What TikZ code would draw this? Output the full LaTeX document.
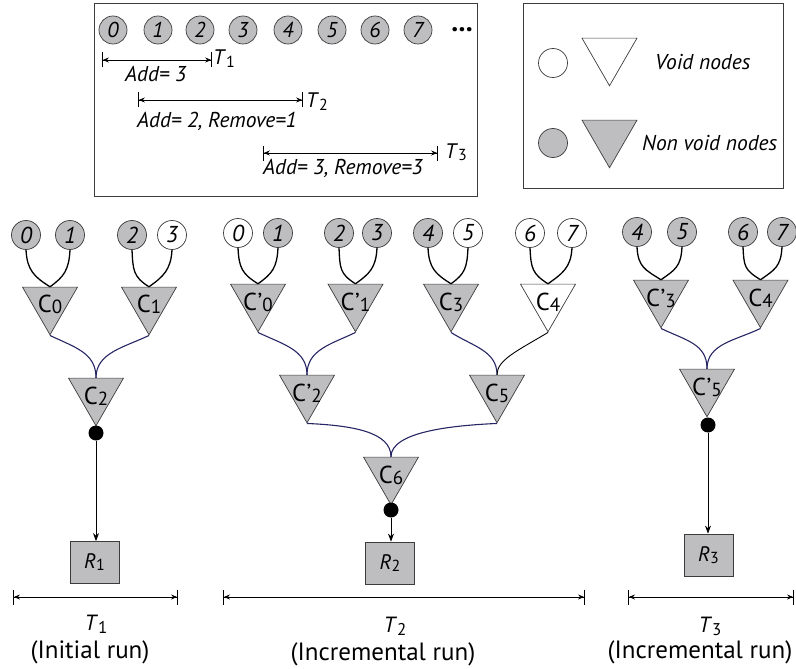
\documentclass[tikz,border=0pt]{standalone}
\usepackage{fontspec}
\setmainfont{PT Sans}
\usetikzlibrary{shapes.geometric,arrows.meta}

\definecolor{nodegray}{RGB}{190,190,192}
\definecolor{linknavy}{RGB}{38,38,100}
\definecolor{rimgray}{RGB}{60,60,60}

\newcommand\fs[1]{\fontsize{#1}{#1}\selectfont}
% lowered, smaller index (size, drop, text)
\newcommand\lsub[3]{\raisebox{-#2}{\fs{#1}#3}}
\newcommand\Clab[1]{C\lsub{19}{1pt}{#1}}
\newcommand\Cplab[1]{C\kern0.5pt’\lsub{19}{1pt}{#1}}

\tikzset{
  leaf/.style={circle, draw=rimgray, line width=0.7pt, fill=nodegray,
    minimum size=29pt, inner sep=0pt, font=\fs{23}\itshape},
  srcleaf/.style={leaf, minimum size=28pt, font=\fs{21.5}\itshape},
  void/.style={fill=white},
  tri/.style={regular polygon, regular polygon sides=3, shape border rotate=180,
    minimum size=63.5pt, inner sep=0pt, draw=rimgray, line width=0.7pt, fill=nodegray},
  clab/.style={yshift=-2pt, inner sep=0pt, font=\fs{24.5}},
  lconn/.style={line width=1.3pt, black},
  link/.style={line width=1.1pt, linknavy},
  dotn/.style={circle, fill=black, minimum size=15pt, inner sep=0pt},
  rbox/.style={rectangle, draw=rimgray, line width=0.8pt, fill=nodegray,
    minimum width=49pt, minimum height=42pt, inner sep=0pt, font=\fs{21}},
  span/.style={line width=0.9pt,
    {Bar[width=15pt]Stealth[length=6pt,width=5pt]}-{Stealth[length=6pt,width=5pt]Bar[width=15pt]}},
  drop/.style={line width=0.8pt, -{Stealth[length=8pt,width=6pt]}},
  txt/.style={inner sep=0pt, anchor=base west},
  ctxt/.style={inner sep=0pt, anchor=base},
  frame/.style={draw=rimgray, line width=0.9pt},
}

\begin{document}
\begin{tikzpicture}[x=1pt, y=-1pt]
\useasboundingbox (0,0) rectangle (796,669);

% ---------- input stream box ----------
\draw[frame] (94,3) rectangle (477,196);
\foreach \i/\x in {0/113,1/158,2/200,3/243,4/288,5/332,6/375,7/418}
  \node[srcleaf] (s\i) at (\x,30) {\i};
\node[font=\fs{28}\bfseries, inner sep=0pt] (more) at (462,30) {...};

\coordinate (w1a) at (102,60);  \coordinate (w1b) at (212,60);
\coordinate (w2a) at (138,100); \coordinate (w2b) at (303,100);
\coordinate (w3a) at (263,153); \coordinate (w3b) at (438,153);
\draw[span, line width=0.8pt] (w1a) -- (w1b);
\draw[span, line width=0.8pt] (w2a) -- (w2b);
\draw[span, line width=0.8pt] (w3a) -- (w3b);
\node[txt, font=\fs{21}] (wt1) at (213,65) {\textit{T}\lsub{16}{2.5pt}{1}};
\node[txt, font=\fs{21}] (wt2) at (306,108) {\textit{T}\lsub{16}{2.5pt}{2}};
\node[txt, font=\fs{21}] (wt3) at (445,158) {\textit{T}\lsub{16}{2.5pt}{3}};
\node[txt, font=\fs{21.5}\itshape] (wa1) at (125,82) {Add= 3};
\node[txt, font=\fs{21.5}\itshape] (wa2) at (137,128) {Add= 2, Remove=1};
\node[txt, font=\fs{21.5}\itshape] (wa3) at (263,175) {Add= 3, Remove=3};

% ---------- legend ----------
\draw[frame] (523,3) rectangle (783,188);
\node[leaf, void] (kv) at (553,63) {};
\node[tri, fill=white] (kvt) at (609.5,54) {};
\node[txt, font=\fs{21.5}\itshape] (kvl) at (655,70) {Void nodes};
\node[leaf] (kn) at (553,143) {};
\node[tri] (knt) at (609.5,136) {};
\node[txt, font=\fs{21.5}\itshape] (knl) at (642,150) {Non void nodes};

% ---------- initial run ----------
\node[leaf] (a0) at (26,235) {0};
\node[leaf] (a1) at (70,235) {1};
\node[leaf] (a2) at (132,235) {2};
\node[leaf, void] (a3) at (172,235) {3};
\node[tri, label={[clab, yshift=1pt]center:\Clab{0}}] (ac0) at (50,303) {};
\node[tri, label={[clab, yshift=1pt]center:\Clab{1}}] (ac1) at (149,303) {};
\node[tri, label={[clab]center:\Clab{2}}] (ac2) at (96,394) {};
\draw[lconn] (a0.south) .. controls +(1,20) and +(-16,-10) .. (ac0.north);
\draw[lconn] (a1.south) .. controls +(-1,20) and +(14,-10) .. (ac0.north);
\draw[lconn] (a2.south) .. controls +(1,20) and +(-16,-10) .. (ac1.north);
\draw[lconn] (a3.south) .. controls +(-1,20) and +(14,-10) .. (ac1.north);
\draw[link] (ac0.south) .. controls +(25,12) and +(0,-25) .. (ac2.north);
\draw[link] (ac1.south) .. controls +(-25,12) and +(0,-25) .. (ac2.north);
\node[dotn] (ad) at (96,433) {};
\node[rbox] (r1) at (94.5,562.5) {\textit{R}\lsub{16}{2pt}{1}};
\draw[drop] (ad) -- (ad |- r1.north);

% ---------- second run ----------
\node[leaf, void] (b0) at (238,233) {0};
\node[leaf] (b1) at (278,233) {1};
\node[leaf] (b2) at (339,233) {2};
\node[leaf] (b3) at (377,233) {3};
\node[leaf] (b4) at (428,233) {4};
\node[leaf, void] (b5) at (468,233) {5};
\node[leaf, void] (b6) at (530,233) {6};
\node[leaf, void] (b7) at (572,233) {7};
\node[tri, label={[clab]center:\Cplab{0}}] (bc0) at (258,300) {};
\node[tri, label={[clab]center:\Cplab{1}}] (bc1) at (355.5,300) {};
\node[tri, label={[clab]center:\Clab{3}}] (bc3) at (451,300) {};
\node[tri, fill=white, label={[clab]center:\Clab{4}}] (bc4) at (548,300) {};
\node[tri, label={[clab]center:\Cplab{2}}] (bc2) at (307,391) {};
\node[tri, label={[clab]center:\Clab{5}}] (bc5) at (497,391) {};
\node[tri, label={[clab]center:\Clab{6}}] (bc6) at (391,473) {};
\draw[lconn] (b0.south) .. controls +(1,20) and +(-16,-10) .. (bc0.north);
\draw[lconn] (b1.south) .. controls +(-1,20) and +(14,-10) .. (bc0.north);
\draw[lconn] (b2.south) .. controls +(1,20) and +(-16,-10) .. (bc1.north);
\draw[lconn] (b3.south) .. controls +(-1,20) and +(14,-10) .. (bc1.north);
\draw[lconn] (b4.south) .. controls +(1,20) and +(-16,-10) .. (bc3.north);
\draw[lconn] (b5.south) .. controls +(-1,20) and +(14,-10) .. (bc3.north);
\draw[lconn] (b6.south) .. controls +(1,20) and +(-16,-10) .. (bc4.north);
\draw[lconn] (b7.south) .. controls +(-1,20) and +(14,-10) .. (bc4.north);
\draw[link] (bc0.south) .. controls +(25,12) and +(0,-25) .. (bc2.north);
\draw[link] (bc1.south) .. controls +(-25,12) and +(0,-25) .. (bc2.north);
\draw[link] (bc3.south) .. controls +(22,14) and +(0,-24) .. (bc5.north);
\draw[line width=0.9pt, black] (bc4.south) .. controls +(-30,18) and +(0,-15) .. (bc5.north);
\draw[link] (bc2.south) .. controls +(45,2) and +(0,-25) .. (bc6.north);
\draw[link] (bc5.south) .. controls +(-45,2) and +(0,-25) .. (bc6.north);
\node[dotn] (bd) at (391,510) {};
\node[rbox] (r2) at (390,563) {\textit{R}\lsub{16}{2pt}{2}};
\draw[drop] (bd) -- (bd |- r2.north);

% ---------- third run ----------
\node[leaf] (d4) at (637,232) {4};
\node[leaf] (d5) at (682,232) {5};
\node[leaf] (d6) at (743,232) {6};
\node[leaf] (d7) at (782,232) {7};
\node[tri, label={[clab]center:\Cplab{3}}] (dc3) at (661,296) {};
\node[tri, label={[clab]center:\Clab{4}}] (dc4) at (760.5,296) {};
\node[tri, label={[clab]center:\Cplab{5}}] (dc5) at (707,385) {};
\draw[lconn] (d4.south) .. controls +(1,20) and +(-16,-10) .. (dc3.north);
\draw[lconn] (d5.south) .. controls +(-1,20) and +(14,-10) .. (dc3.north);
\draw[lconn] (d6.south) .. controls +(1,20) and +(-16,-10) .. (dc4.north);
\draw[lconn] (d7.south) .. controls +(-1,20) and +(14,-10) .. (dc4.north);
\draw[link] (dc3.south) .. controls +(25,12) and +(0,-25) .. (dc5.north);
\draw[link] (dc4.south) .. controls +(-25,12) and +(0,-25) .. (dc5.north);
\node[dotn] (dd) at (708,425) {};
\node[rbox] (r3) at (708.5,555) {\textit{R}\lsub{16}{2pt}{3}};
\draw[drop] (dd) -- (dd |- r3.north);

% ---------- time spans ----------
\coordinate (p1a) at (13,597);  \coordinate (p1b) at (178,597);
\coordinate (p2a) at (223,597); \coordinate (p2b) at (585,597);
\coordinate (p3a) at (628,597); \coordinate (p3b) at (794,597);
\draw[span] (p1a) -- (p1b);
\draw[span] (p2a) -- (p2b);
\draw[span] (p3a) -- (p3b);
\node[ctxt, font=\fs{22}] (t1) at (96,630) {\textit{T}\lsub{17}{3pt}{1}};
\node[ctxt, font=\fs{22}] (t2) at (395,632) {\textit{T}\lsub{17}{3pt}{2}};
\node[ctxt, font=\fs{22}] (t3) at (710,632) {\textit{T}\lsub{17}{3pt}{3}};
\node[ctxt, font=\fs{25}] (n1) at (90,658) {(Initial run)};
\node[ctxt, font=\fs{25}] (n2) at (383,660) {(Incremental run)};
\node[ctxt, font=\fs{25}] (n3) at (700,658) {(Incremental run)};
\end{tikzpicture}
\end{document}
